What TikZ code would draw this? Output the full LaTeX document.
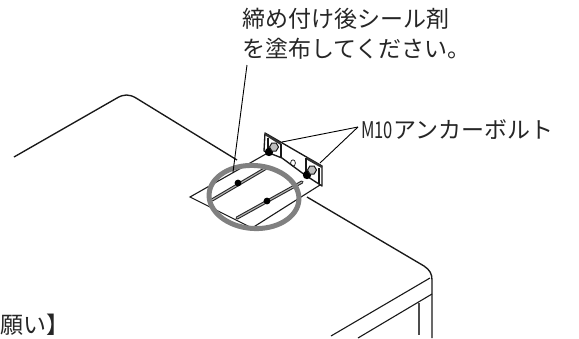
\documentclass[tikz,border=0pt]{standalone}
\usepackage{fontspec}
\setmainfont{Noto Sans CJK JP}
\tikzset{
  body/.style={draw=black!90,line width=1.35pt,line join=round},
  thin line/.style={draw=black!90,line width=1.1pt},
  leader/.style={draw=black,line width=.9pt},
  label/.style={inner sep=0pt,anchor=west,font=\fontsize{23}{23}\selectfont,text=black!85},
  ring/.style={draw=black!50,line width=5pt},
  slot outer/.style={draw=black!85,line width=3.2pt,line cap=round},
  slot inner/.style={draw=black!30,line width=1.1pt,line cap=round},
  nut/.style={draw=black!90,line width=1pt,fill=black!25,line join=round}
}
\begin{document}
\begin{tikzpicture}[x=1pt,y=-1pt]
\useasboundingbox (0,0) rectangle (579,338);
\fill[white] (0,0) rectangle (579,338);
% table outline
\draw[body] (14,157) -- (117,98) .. controls (124,94) and (129,94) .. (136,98) -- (237,160);
\draw[body] (307,197) -- (424,266) .. controls (430,270) and (432,274) .. (432,280) -- (432,338);
\draw[thin line] (430,278) -- (331,336);
\draw[thin line] (432,294) -- (358,338);
\draw[thin line,black!70] (419,303) -- (419,335);
% plate
\draw[thin line] (273,150) -- (190,197) -- (252,228) -- (320,185);
% slots
\draw[slot outer] (212,200) -- (268,167);
\draw[slot inner] (212,200) -- (268,167);
\draw[slot outer] (237,218) -- (302,182);
\draw[slot inner] (237,218) -- (302,182);
\fill (238,183) circle (3.4);
\fill (267,201) circle (3.4);
% bracket
\draw[body,fill=white] (265,133) -- (322,166) -- (322,186) -- (305,175) -- (282,158) -- (264,151) -- cycle;
\draw[thin line,line width=2.2pt,black!80] (265,134) -- (281,144);
\draw[thin line,line width=2.2pt,black!80] (306,158) -- (322,167);
\draw[thin line] (268,138) -- (268,152);
\draw[thin line] (281,144) -- (281,158);
\draw[thin line] (306,158) -- (306,175);
\draw[thin line] (319,168) -- (319,184);
\draw[thin line,line width=.7pt] (293,163) ellipse (2.4 and 3.2);
% bolts
\fill[black] (269,152) circle (4.2);
\fill[black] (307,175) circle (4.2);
\draw[nut] (278.5,147) -- (276.2,143) -- (271.8,143) -- (269.5,147) -- (271.8,151) -- (276.2,151) -- cycle;
\draw[nut] (316.5,170) -- (314.2,166) -- (309.8,166) -- (307.5,170) -- (309.8,174) -- (314.2,174) -- cycle;
% ring
\draw[ring,rotate around={-4:(254,197)}] (254,197) ellipse (45 and 31.5);
% labels
\node[label] (seal1) at (242,19) {締め付け後シール剤};
\node[label] (seal2) at (242,49) {を塗布してください。};
\node[label] (bolt) at (361,130) {\scalebox{.72}[1]{M10}アンカーボルト};
\node[label] (note) at (0,325) {願い】};
% leaders
\coordinate (sealtop) at (247,65);
\coordinate (sealend) at (233,172);
\coordinate (bolta) at (282,142);
\coordinate (boltb) at (320,163);
\coordinate (boltc) at (358,127);
\draw[leader] (sealtop) -- (sealend);
\draw[leader] (boltc) -- (bolta);
\draw[leader] (boltc) -- (boltb);
\end{tikzpicture}
\end{document}
